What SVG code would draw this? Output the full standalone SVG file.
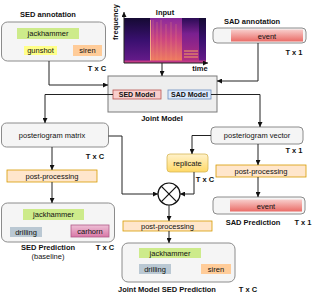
<svg xmlns="http://www.w3.org/2000/svg" width="314" height="296" viewBox="0 0 314 296">
<defs>
<style>
text{font-family:"Liberation Sans",Arial,sans-serif;font-size:7.5px;fill:#111;text-anchor:middle}
.b{font-weight:bold}
.box{fill:#f5f5f5;stroke:#8c8c8c;stroke-width:1}
.jm{fill:#eeeeee;stroke:#7a7a7a;stroke-width:1}
.conn{fill:none;stroke:#222;stroke-width:1}
.green{fill:#cdeb8b}
.yellow{fill:#ffff88}
.orange{fill:#ffcc99}
.gray{fill:#bac8d3}
.pp{fill:#ffe6cc;stroke:#d79b00;stroke-width:0.8}
</style>
<marker id="ah" viewBox="0 0 6 6" refX="6" refY="3" markerWidth="5" markerHeight="5" orient="auto" markerUnits="userSpaceOnUse">
<path d="M0,0 L6,3 L0,6 z" fill="#111"/>
</marker>
<linearGradient id="red" x1="0" y1="0" x2="0" y2="1">
<stop offset="0" stop-color="#f8cecc"/>
<stop offset="1" stop-color="#ea6b66"/>
</linearGradient>
<linearGradient id="yel" x1="0" y1="0" x2="0" y2="1">
<stop offset="0" stop-color="#fff2cc"/>
<stop offset="1" stop-color="#ffd966"/>
</linearGradient>
<linearGradient id="pink" x1="0" y1="0" x2="0" y2="1">
<stop offset="0" stop-color="#eec0d6"/>
<stop offset="1" stop-color="#d877a6"/>
</linearGradient>
<linearGradient id="specDark" x1="0" y1="0" x2="0" y2="1">
<stop offset="0" stop-color="#150a33"/>
<stop offset="0.5" stop-color="#3a1070"/>
<stop offset="1" stop-color="#6a1c8c"/>
</linearGradient>
<linearGradient id="specBright" x1="0" y1="0" x2="0" y2="1">
<stop offset="0" stop-color="#8a2a9c"/>
<stop offset="0.45" stop-color="#c94282"/>
<stop offset="1" stop-color="#f3815c"/>
</linearGradient>
<linearGradient id="specMid" x1="0" y1="0" x2="0" y2="1">
<stop offset="0" stop-color="#2a0c55"/>
<stop offset="0.35" stop-color="#7a2090"/>
<stop offset="1" stop-color="#b8307e"/>
</linearGradient>
</defs>

<g id="input">
<text class="b" x="165" y="15">Input</text>
<rect x="124" y="18" width="82" height="45" fill="url(#specDark)"/>
<rect x="150" y="18" width="32" height="45" fill="url(#specBright)"/>
<g stroke="#f6a070" stroke-width="0.6" opacity="0.55">
<line x1="153" y1="20" x2="153" y2="62"/>
<line x1="157" y1="22" x2="157" y2="62"/>
<line x1="161" y1="20" x2="161" y2="62"/>
<line x1="166" y1="24" x2="166" y2="62"/>
<line x1="171" y1="22" x2="171" y2="62"/>
<line x1="176" y1="24" x2="176" y2="62"/>
</g>
<line x1="150.5" y1="20" x2="150.5" y2="62" stroke="#fbc08a" stroke-width="0.8"/>
<rect x="182" y="18" width="17" height="45" fill="url(#specMid)"/>
<g stroke="#f7a35f" stroke-width="1">
<line x1="184" y1="51" x2="198" y2="51"/>
<line x1="184" y1="54" x2="198" y2="54"/>
<line x1="184" y1="57" x2="198" y2="57"/>
</g>
<rect x="124" y="60.5" width="82" height="2.5" fill="#c23a88"/>
<text class="b" transform="translate(118,22) rotate(-90)">frequency</text>
<line class="conn" x1="124" y1="63" x2="124" y2="12" marker-end="url(#ah)"/>
<line class="conn" x1="124" y1="63" x2="208" y2="63" marker-end="url(#ah)"/>
<text class="b" x="200" y="71">time</text>
</g>

<g id="sed-annotation">
<text class="b" x="48" y="17">SED annotation</text>
<rect class="box" x="1.5" y="22" width="104" height="39" rx="6"/>
<rect class="green" x="17" y="28" width="62" height="11"/>
<text x="48" y="36">jackhammer</text>
<rect class="yellow" x="24" y="46" width="33" height="9"/>
<text x="40.5" y="53">gunshot</text>
<rect class="orange" x="73" y="45" width="29" height="11"/>
<text x="87.5" y="53">siren</text>
<text class="b" x="97" y="71">T x C</text>
</g>

<g id="sad-annotation">
<text class="b" x="252" y="24">SAD annotation</text>
<rect class="box" x="213" y="28" width="93" height="15" rx="4"/>
<rect x="231" y="29.5" width="72" height="12" fill="url(#red)"/>
<text x="267" y="38.5">event</text>
<text class="b" x="294" y="55">T x 1</text>
</g>

<g id="joint-model">
<rect class="jm" x="108" y="76" width="109" height="36"/>
<g id="sed-model">
<rect x="113" y="90" width="48" height="9" fill="#f8cecc" stroke="#b85450" stroke-width="0.8"/>
<text class="b" x="137" y="97" style="font-size:7px">SED Model</text>
</g>
<g id="sad-model">
<rect x="168" y="90" width="43" height="9" fill="#dae8fc" stroke="#6c8ebf" stroke-width="0.8"/>
<text class="b" x="189.5" y="97" style="font-size:7px">SAD Model</text>
</g>
<text class="b" x="162" y="121">Joint Model</text>
</g>

<g id="posteriogram-matrix">
<rect class="box" x="1.5" y="123" width="107" height="24" rx="5"/>
<text x="52" y="138">posteriogram matrix</text>
<text class="b" x="95" y="159">T x C</text>
</g>

<g id="pp-left">
<rect class="pp" x="7" y="170" width="90" height="12"/>
<text x="52" y="178.5">post-processing</text>
</g>

<g id="sed-prediction">
<rect class="box" x="1.5" y="203" width="113" height="39" rx="6"/>
<rect class="green" x="23" y="209" width="61" height="11"/>
<text x="53.5" y="217">jackhammer</text>
<rect class="gray" x="10" y="227" width="32" height="10"/>
<text x="26" y="234.5">drilling</text>
<rect x="71" y="225" width="38" height="12" fill="url(#pink)" stroke="#b05a88" stroke-width="0.8"/>
<text x="90" y="233.5">carhorn</text>
<text class="b" x="48" y="250">SED Prediction</text>
<text x="48" y="259">(baseline)</text>
<text class="b" x="105" y="250">T x C</text>
</g>

<g id="posteriogram-vector">
<rect class="box" x="211" y="127" width="92" height="17" rx="4"/>
<text x="257" y="138">posteriogram vector</text>
<text class="b" x="294" y="153">T x 1</text>
</g>

<g id="replicate">
<rect x="167" y="154" width="41" height="18" rx="3" fill="url(#yel)" stroke="#d6b656" stroke-width="0.8"/>
<text x="187.5" y="165.5">replicate</text>
<text class="b" x="205" y="182">T x C</text>
</g>

<g id="pp-right">
<rect class="pp" x="216" y="165" width="90" height="12"/>
<text x="261" y="173.5">post-processing</text>
</g>

<g id="sad-prediction">
<rect class="box" x="213" y="197" width="92" height="17" rx="4"/>
<rect x="230" y="199.5" width="72" height="12" fill="url(#red)"/>
<text x="266" y="208.5">event</text>
<text class="b" x="253" y="225">SAD Prediction</text>
<text class="b" x="303" y="225">T x 1</text>
</g>

<g id="multiply">
<circle cx="169" cy="194" r="11" fill="#fff" stroke="#111" stroke-width="1.2"/>
<line x1="161.2" y1="186.2" x2="176.8" y2="201.8" stroke="#111" stroke-width="1.2"/>
<line x1="176.8" y1="186.2" x2="161.2" y2="201.8" stroke="#111" stroke-width="1.2"/>
</g>

<g id="pp-joint">
<rect class="pp" x="123" y="221" width="89" height="10"/>
<text x="167.5" y="228.5">post-processing</text>
</g>

<g id="joint-prediction">
<rect class="box" x="122" y="243" width="113" height="39" rx="6"/>
<rect class="green" x="139" y="248" width="62" height="10"/>
<text x="170" y="255.5">jackhammer</text>
<rect class="gray" x="139" y="264" width="32" height="10"/>
<text x="155" y="271.5">drilling</text>
<rect class="orange" x="201" y="264" width="30" height="10"/>
<text x="216" y="271.5">siren</text>
<text class="b" x="167" y="292">Joint Model SED Prediction</text>
<text class="b" x="248" y="292">T x C</text>
</g>

<g id="connectors">
<path class="conn" d="M49 61 V85 H108" marker-end="url(#ah)"/>
<path class="conn" d="M162 63 V76" marker-end="url(#ah)"/>
<path class="conn" d="M258 43 V81 H217" marker-end="url(#ah)"/>
<path class="conn" d="M113 94.5 H45 V123" marker-end="url(#ah)"/>
<path class="conn" d="M211 94.5 H260 V127" marker-end="url(#ah)"/>
<path class="conn" d="M52 147 V170" marker-end="url(#ah)"/>
<path class="conn" d="M52 182 V203" marker-end="url(#ah)"/>
<path class="conn" d="M108.5 136 H122 V194 H158" marker-end="url(#ah)"/>
<path class="conn" d="M211 135.5 H192 V154" marker-end="url(#ah)"/>
<path class="conn" d="M194 172 V194 H180" marker-end="url(#ah)"/>
<path class="conn" d="M258 144 V165" marker-end="url(#ah)"/>
<path class="conn" d="M258 177 V197" marker-end="url(#ah)"/>
<path class="conn" d="M169 205 V221" marker-end="url(#ah)"/>
<path class="conn" d="M169 231 V243" marker-end="url(#ah)"/>
</g>
</svg>
